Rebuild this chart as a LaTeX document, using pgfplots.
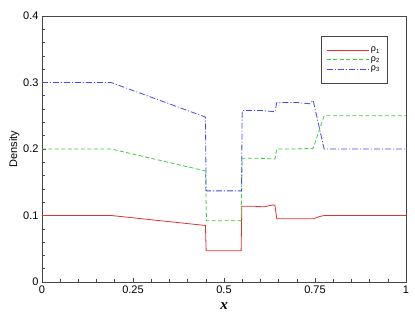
\documentclass[border=0pt]{standalone}
\usepackage{pgfplots}
\pgfplotsset{compat=1.18}
\usepackage{fontspec}
\setmainfont{Liberation Sans}
\newfontfamily\timesf{Liberation Serif}
\definecolor{cred}{RGB}{225,50,50}
\definecolor{cgreen}{RGB}{60,205,60}
\definecolor{cblue}{RGB}{70,70,235}
\definecolor{axgray}{RGB}{70,70,70}
\begin{document}
\begin{tikzpicture}
\begin{axis}[
  name=ax,
  scale only axis,
  width=364pt, height=266pt,
  xmin=0, xmax=1, ymin=0, ymax=0.4,
  xtick={0,0.25,0.5,0.75,1},
  xticklabels={0,0.25,0.5,0.75,1},
  ytick={0,0.1,0.2,0.3,0.4},
  yticklabels={0,0.1,0.2,0.3,0.4},
  minor x tick num=4,
  minor y tick num=4,
  tick align=inside,
  xtick pos=bottom, ytick pos=left,
  major tick length=4pt, minor tick length=3pt,
  axis line style={axgray, line width=0.9pt},
  every tick/.style={axgray, line width=0.6pt},
  tick label style={font=\fontsize{11}{13}\selectfont},
  /pgf/number format/assume math mode=true,
  xlabel={\timesf\bfseries\itshape x},
  xlabel style={font=\fontsize{15}{17}\selectfont, yshift=-2pt},
  ylabel={Density},
  ylabel style={font=\fontsize{11}{13}\selectfont, yshift=-3pt},
  legend style={at={(0.948,0.925)}, anchor=north east, draw=axgray,
    font=\fontsize{9}{9}\selectfont, row sep=-1pt, inner ysep=9pt, inner xsep=5pt},
  legend cell align=left,
]
\addplot[draw=cred, line width=0.8pt,
  legend image code/.code={\begin{scope}[color=cred]\draw[cred, line width=0.8pt, solid] (0pt,0pt) -- (42pt,0pt);\end{scope}}] coordinates {
(0,0.1)(0.19,0.1)(0.449,0.085)(0.451,0.047)(0.547,0.047)(0.549,0.114)(0.58,0.114)(0.61,0.113)(0.635,0.116)(0.64,0.115)(0.645,0.095)(0.70,0.095)(0.745,0.095)(0.76,0.098)(0.775,0.1)(1,0.1)};
\addlegendentry{ρ\textsubscript{1}}
\addplot[draw=cgreen, line width=0.8pt, dash pattern=on 4pt off 2.5pt,
  legend image code/.code={\begin{scope}[color=cgreen]\draw[cgreen, line width=0.8pt, dash pattern=on 4pt off 2.5pt] (0pt,0pt) -- (42pt,0pt);\end{scope}}] coordinates {
(0,0.2)(0.19,0.2)(0.449,0.167)(0.452,0.092)(0.547,0.092)(0.55,0.186)(0.6,0.186)(0.64,0.185)(0.645,0.2)(0.70,0.2)(0.745,0.201)(0.775,0.25)(1,0.25)};
\addlegendentry{ρ\textsubscript{2}}
\addplot[draw=cblue, line width=0.8pt, dash pattern=on 6pt off 2pt on 1pt off 2pt,
  legend image code/.code={\begin{scope}[color=cblue]\draw[cblue, line width=0.8pt, dash pattern=on 6pt off 2pt on 1pt off 2pt] (0pt,0pt) -- (42pt,0pt);\end{scope}}] coordinates {
(0,0.3)(0.19,0.3)(0.449,0.248)(0.451,0.137)(0.548,0.137)(0.55,0.258)(0.60,0.258)(0.64,0.256)(0.645,0.27)(0.70,0.27)(0.735,0.268)(0.745,0.273)(0.775,0.2)(1,0.2)};
\addlegendentry{ρ\textsubscript{3}}
\end{axis}
\pgfresetboundingbox
\path ([shift={(-42pt,-31pt)}]ax.south west) rectangle ([shift={(9pt,16pt)}]ax.north east);
\end{tikzpicture}
\end{document}
